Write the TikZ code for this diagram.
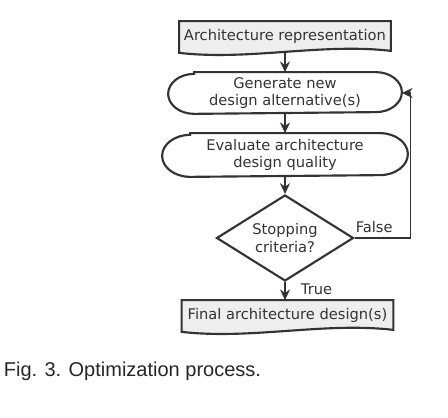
\documentclass[tikz,border=0pt]{standalone}
\usepackage{fontspec}
\setmainfont{DejaVu Sans}
\newfontfamily\capfont{Liberation Sans}
\usetikzlibrary{arrows.meta,shapes.geometric,backgrounds}

\definecolor{inkgray}{HTML}{333333}
\definecolor{docgray}{HTML}{EEEEEE}

\tikzset{
  box/.style={inner sep=0pt, align=center, font=\fontsize{11}{13.3}\selectfont},
  docbox/.style={box, minimum width=157.5pt, minimum height=21pt},
  termbox/.style={box, minimum width=#1, minimum height=30pt},
  frame/.style={draw=inkgray, line width=1.6pt},
}

% document shape: flat top, wavy bottom
\newcommand\docframe[1]{%
  \path[frame, fill=docgray] (#1.south east) -- (#1.north east) -- (#1.north west)
    -- ([shift={(0,-2)}]#1.south west) .. controls +(70,-8) and +(-70,8) .. (#1.south east) -- cycle;}
% terminal shape: straight sides, half-ellipse ends
\newcommand\termframe[3]{%
  \path[frame, fill=white] ([shift={(#2,0)}]#1.north west) -- ([shift={(-#2,0)}]#1.north east)
    arc[start angle=90, end angle=-90, x radius=#2, y radius=#3]
    -- ([shift={(#2,0)}]#1.south west)
    arc[start angle=270, end angle=90, x radius=#2, y radius=#3] -- cycle;}

\begin{document}
\begin{tikzpicture}[x=0.75pt, y=0.75pt, color=inkgray, line width=1.3pt,
  >={Stealth[length=8pt, width=7.5pt]}]
\useasboundingbox (0,0) rectangle (448,417);

\node[docbox] (rep) at (285,381) {Architecture representation};
\node[termbox=174pt] (gen) at (285,324) {Generate new\\design alternative(s)};
\node[termbox=183pt, minimum height=31.5pt] (eval) at (285,262) {Evaluate architecture\\design quality};
\node[box, diamond, frame, fill=white, aspect=1.6, minimum width=102.75pt,
  minimum height=64.5pt] (stop) at (285,179) {Stopping\\criteria?};
\node[docbox] (final) at (287.5,102) {Final architecture design(s)};

\begin{scope}[on background layer]
\docframe{rep}
\docframe{final}
\termframe{gen}{26}{20}
\termframe{eval}{28}{21}
\end{scope}

\draw[->] (rep) edge (gen);
\draw[->] (gen) edge (eval);
\draw[->] (eval) edge (stop);
\draw[->] (stop.south) -- node[right=8pt, pos=0.4] (tlab) {\fontsize{11}{13}\selectfont True}
  (stop.south |- final.north);
\draw[->] (stop.east) -- node[above, pos=0.35] (flab) {\fontsize{11}{13}\selectfont False}
  ++(56,0) |- (gen.east);

\node[anchor=base west, inner sep=0pt, text=black!85, font=\capfont\fontsize{15}{17}\selectfont]
  (caption) at (3,41) {Fig. 3. Optimization process.};
\end{tikzpicture}
\end{document}
